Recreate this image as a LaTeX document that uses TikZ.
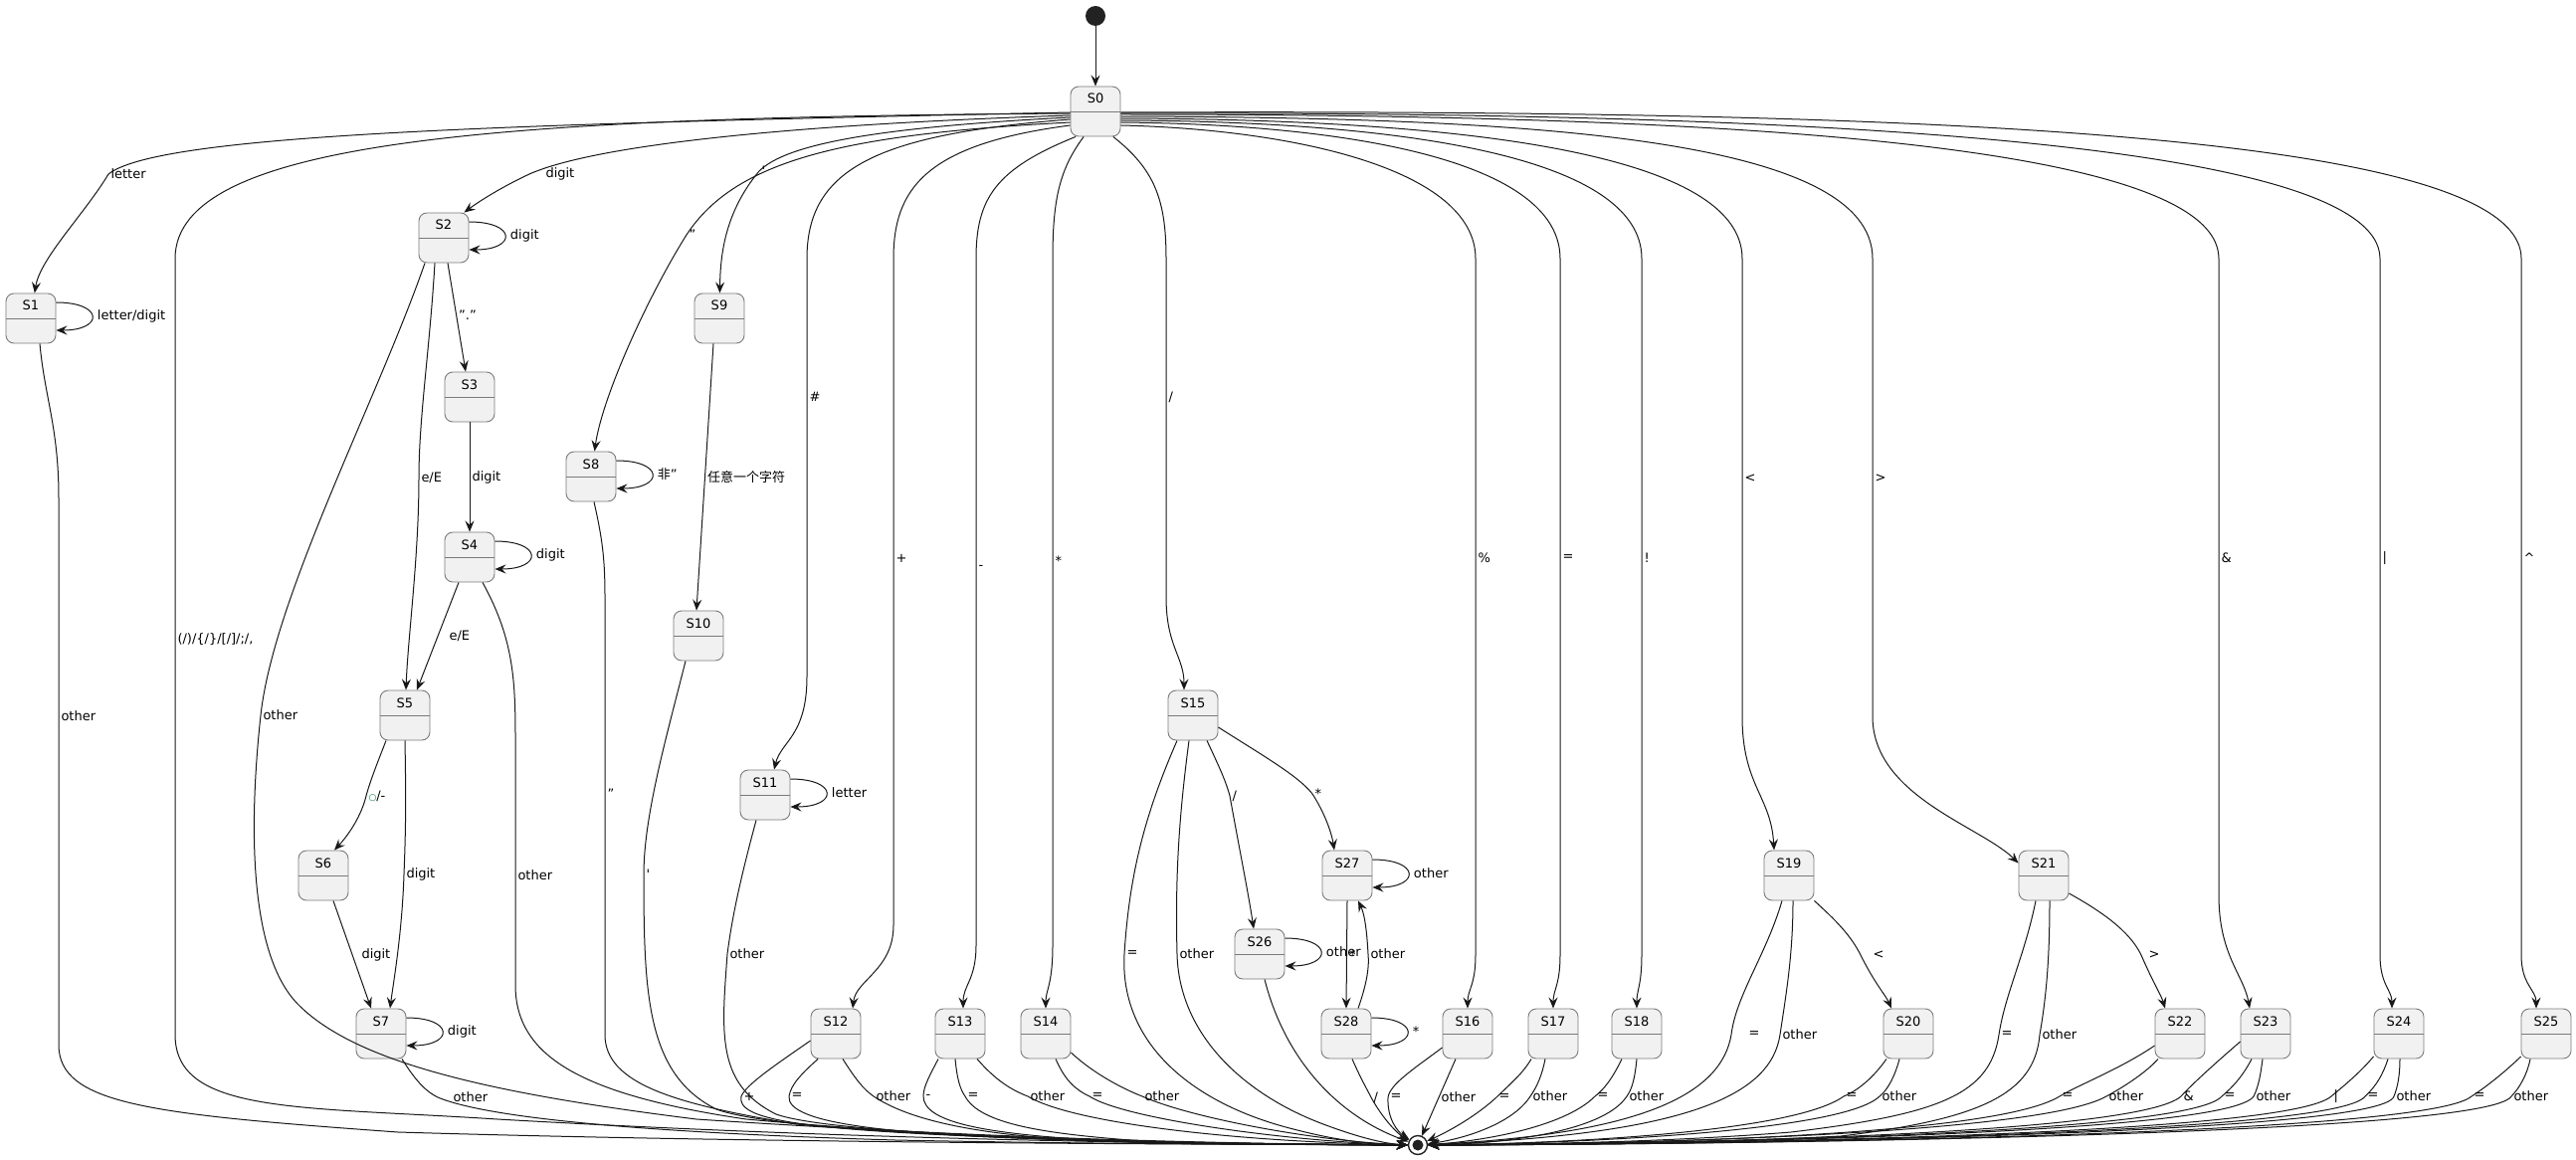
\documentclass[tikz,border=0pt]{standalone}
\usepackage{fontspec}
\setmainfont{DejaVu Sans}
\newfontfamily\cjk{Noto Sans CJK SC}
\usepackage{tikz}
\usetikzlibrary{arrows.meta,positioning}
\definecolor{statefill}{HTML}{F1F1F1}
\definecolor{stateborder}{HTML}{7A7A7A}
\definecolor{edgecol}{HTML}{181818}
\definecolor{dotcol}{HTML}{222222}
\definecolor{pubgreen}{HTML}{038048}

\begin{document}
\begin{tikzpicture}[x=1pt, y=-1pt, every node/.style={font=\fontsize{13}{15}\selectfont}]
  \tikzstyle{statebox} = [rectangle, draw=stateborder, line width=0.9pt, fill=statefill, rounded corners=8pt, minimum width=50pt, inner sep=5pt, text height=12pt, text depth=28pt, path picture={\draw[stateborder, line width=0.9pt] ([yshift=-25.5pt]path picture bounding box.north west) -- ([yshift=-25.5pt]path picture bounding box.north east);}]
  \tikzstyle{startdot} = [circle, fill=dotcol, minimum size=20pt, inner sep=0pt]
  \tikzstyle{finalstate} = [circle, draw=dotcol, line width=1.4pt, fill=white, minimum size=19pt, inner sep=0pt, path picture={\fill[dotcol] (path picture bounding box.center) circle (5.5pt);}]
  \tikzstyle{line} = [draw=edgecol, line width=1pt, -{Stealth[length=11pt, width=9pt, inset=4pt]}]
  \tikzstyle{lbl} = [inner sep=2pt, text=black]
  \tikzstyle{selfloop} = [to path={.. controls +(48,0) and +(48,0) .. (\tikztotarget) \tikztonodes}]
  \useasboundingbox (0,0) rectangle (2589,1166);

  % Start and end
  \node[startdot] (start) at (1101,16) {};
  \node[finalstate] (fin) at (1425,1151) {};

  % States
  \node[statebox] (S0) at (1101,112) {S0};
  \node[statebox] (S1) at (31,320) {S1};
  \node[statebox] (S2) at (446,239) {S2};
  \node[statebox] (S3) at (472,399) {S3};
  \node[statebox] (S4) at (472,560) {S4};
  \node[statebox] (S5) at (407,719) {S5};
  \node[statebox] (S6) at (325,880) {S6};
  \node[statebox] (S7) at (383,1039) {S7};
  \node[statebox] (S8) at (594,479) {S8};
  \node[statebox] (S9) at (723,320) {S9};
  \node[statebox] (S10) at (702,639) {S10};
  \node[statebox] (S11) at (769,799) {S11};
  \node[statebox] (S12) at (840,1039) {S12};
  \node[statebox] (S13) at (965,1039) {S13};
  \node[statebox] (S14) at (1051,1039) {S14};
  \node[statebox] (S15) at (1199,719) {S15};
  \node[statebox] (S16) at (1475,1039) {S16};
  \node[statebox] (S17) at (1561,1039) {S17};
  \node[statebox] (S18) at (1645,1039) {S18};
  \node[statebox] (S19) at (1798,880) {S19};
  \node[statebox] (S20) at (1918,1039) {S20};
  \node[statebox] (S21) at (2054,880) {S21};
  \node[statebox] (S22) at (2191,1039) {S22};
  \node[statebox] (S23) at (2277,1039) {S23};
  \node[statebox] (S24) at (2411,1039) {S24};
  \node[statebox] (S25) at (2559,1039) {S25};
  \node[statebox] (S26) at (1266,959) {S26};
  \node[statebox] (S27) at (1354,880) {S27};
  \node[statebox] (S28) at (1353,1039) {S28};

  % Entry
  \draw[line] (start) -- (S0);

  % S0, left side
  \draw[line] ([yshift=-1pt]S0.west) .. controls (500,125) and (160,135) .. (109,175) node[lbl,right]{letter} .. controls (85,215) and (40,260) .. (S1);
  \draw[line] ([yshift=-2pt]S0.west) .. controls (500,118) and (176,140) .. (176,260) -- node[lbl,right,pos=0.49]{(/)/\{/\}/[/]/;/,} (176,1040) .. controls (176,1120) and (300,1112) .. (500,1125) .. controls (900,1148) and (1250,1150) .. (fin);
  \draw[line] ([yshift=-4pt]S0.west) .. controls (800,125) and (600,145) .. (532,175) node[lbl,right=14pt]{digit} .. controls (500,190) and (478,205) .. ([xshift=-5pt]S2.north east);
  \draw[line] ([yshift=-11pt]S0.west) .. controls (850,135) and (740,160) .. (690,236) node[lbl,right]{"} .. controls (650,300) and (605,400) .. (S8);
  \draw[line] ([yshift=-6pt]S0.west) .. controls (880,128) and (790,145) .. (763,172) node[lbl,right]{\textquotesingle} .. controls (727,215) and (724,260) .. (S9);
  \draw[line] ([yshift=-8pt]S0.west) .. controls (880,135) and (811,170) .. (811,260) -- node[lbl,right,pos=0.33]{\#} (811,680) .. controls (811,740) and (785,745) .. ([xshift=9pt]S11.north);
  \draw[line] ([yshift=-14pt]S0.west) .. controls (930,145) and (898,190) .. (898,260) -- node[lbl,right,pos=0.45]{+} (898,930) .. controls (898,975) and (860,985) .. ([xshift=17pt]S12.north);
  \draw[line] (S0.232) .. controls (1000,170) and (981,200) .. (981,260) -- node[lbl,right,pos=0.45]{-} (981,950) .. controls (981,985) and (968,990) .. ([xshift=3pt]S13.north);
  \draw[line] (S0.245) .. controls (1065,170) and (1058,200) .. (1058,260) -- node[lbl,right,pos=0.44]{*} (1058,950) .. controls (1058,990) and (1051,995) .. (S14.north);
  \draw[line] (S0.305) .. controls (1160,170) and (1172,200) .. (1172,260) -- node[lbl,right,pos=0.41]{/} (1172,600) .. controls (1172,650) and (1190,660) .. ([xshift=-9pt]S15.north);

  % S0, right side
  \draw[line] ([yshift=-14pt]S0.east) .. controls (1300,130) and (1483,170) .. (1483,260) -- node[lbl,right,pos=0.43]{\%} (1483,960) .. controls (1483,990) and (1475,995) .. (S16.north);
  \draw[line] ([yshift=-11pt]S0.east) .. controls (1350,125) and (1568,160) .. (1568,260) -- node[lbl,right,pos=0.43]{=} (1568,960) .. controls (1568,990) and (1561,995) .. (S17.north);
  \draw[line] ([yshift=-9pt]S0.east) .. controls (1400,122) and (1650,155) .. (1650,260) -- node[lbl,right,pos=0.43]{!} (1650,960) .. controls (1650,990) and (1645,995) .. (S18.north);
  \draw[line] ([yshift=-7pt]S0.east) .. controls (1450,120) and (1751,150) .. (1751,260) -- node[lbl,right,pos=0.48]{<} (1751,720) .. controls (1751,790) and (1780,800) .. ([xshift=-15pt]S19.north);
  \draw[line] ([yshift=-5pt]S0.east) .. controls (1550,118) and (1882,140) .. (1882,260) -- node[lbl,right,pos=0.48]{>} (1882,720) .. controls (1882,800) and (1990,830) .. ([yshift=-13pt]S21.north west);
  \draw[line] ([yshift=-3pt]S0.east) .. controls (1700,115) and (2230,140) .. (2230,260) -- node[lbl,right,pos=0.47]{\&} (2230,900) .. controls (2230,960) and (2255,980) .. ([xshift=-16pt]S23.north);
  \draw[line] ([yshift=-2pt]S0.east) .. controls (1800,112) and (2392,140) .. (2392,260) -- node[lbl,right,pos=0.43]{\textbar} (2392,960) .. controls (2392,990) and (2404,995) .. ([xshift=-7pt]S24.north);
  \draw[line] ([yshift=-1pt]S0.east) .. controls (1900,110) and (2534,130) .. (2534,260) -- node[lbl,right,pos=0.43]{\textasciicircum} (2534,960) .. controls (2534,990) and (2549,995) .. ([xshift=-10pt]S25.north);

  % S1
  \draw[line] ([yshift=16pt]S1.east) to[selfloop] node[lbl,right=3pt]{letter/digit} ([yshift=-12pt]S1.east);
  \draw[line] ([xshift=9pt]S1.south) .. controls (45,400) and (59,430) .. (59,500) -- node[lbl,right,pos=0.4]{other} (59,1050) .. controls (59,1110) and (150,1120) .. (400,1138) .. controls (800,1150) and (1250,1150) .. (fin);

  % S2
  \draw[line] ([yshift=16pt]S2.east) to[selfloop] node[lbl,right=3pt]{digit} ([yshift=-12pt]S2.east);
  \draw[line] ([xshift=4pt]S2.south) -- node[lbl,right,pos=0.48]{"."} ([xshift=-4pt]S3.north);
  \draw[line] ([xshift=-9pt]S2.south) .. controls (432,350) and (421,420) .. (421,480) node[lbl,right]{e/E} .. controls (421,560) and (410,640) .. ([xshift=1pt]S5.north);
  \draw[line] ([xshift=-19pt]S2.south) .. controls (380,400) and (275,600) .. (262,719) node[lbl,right]{other} .. controls (250,830) and (250,960) .. (300,1010) .. controls (360,1070) and (500,1100) .. (700,1125) .. controls (1000,1145) and (1250,1150) .. (fin);

  % S3
  \draw[line] (S3.south) -- node[lbl,right]{digit} (S4.north);

  % S4
  \draw[line] ([yshift=16pt]S4.east) to[selfloop] node[lbl,right=3pt]{digit} ([yshift=-12pt]S4.east);
  \draw[line] ([xshift=-11pt]S4.south) -- node[lbl,right=9pt,pos=0.5]{e/E} ([xshift=12pt]S5.north);
  \draw[line] ([xshift=13pt]S4.south) .. controls (515,640) and (518,680) .. (518,740) -- node[lbl,right,pos=0.56]{other} (518,990) .. controls (518,1060) and (580,1100) .. (750,1125) .. controls (1000,1148) and (1250,1150) .. (fin);

  % S5
  \draw[line] ([xshift=-19pt]S5.south) .. controls (380,765) and (372,785) .. (368,800) node[lbl,right]{{\fontsize{9}{10}\selectfont\textcolor{pubgreen}{○}}/-} .. controls (362,825) and (345,845) .. ([xshift=11pt]S6.north);
  \draw[line] (S5.south) .. controls (408,800) and (408,830) .. (406,879) node[lbl,right]{digit} .. controls (404,940) and (395,990) .. ([xshift=9pt]S7.north);

  % S6
  \draw[line] ([xshift=10pt]S6.south) -- node[lbl,right=7pt,pos=0.5]{digit} ([xshift=-10pt]S7.north);

  % S7
  \draw[line] ([yshift=16pt]S7.east) to[selfloop] node[lbl,right=3pt]{digit} ([yshift=-12pt]S7.east);
  \draw[line] ([xshift=21pt]S7.south) .. controls (420,1090) and (430,1098) .. (440,1103) node[lbl,right=13pt]{other} .. controls (500,1128) and (700,1140) .. (900,1146) .. controls (1100,1150) and (1250,1150) .. (fin);

  % S8
  \draw[line] ([yshift=16pt]S8.east) to[selfloop] node[lbl,right=3pt]{{\cjk 非}"} ([yshift=-12pt]S8.east);
  \draw[line] ([xshift=3pt]S8.south) .. controls (605,540) and (608,560) .. (608,600) -- node[lbl,right,pos=0.45]{"} (608,1040) .. controls (608,1090) and (680,1110) .. (800,1130) .. controls (1000,1148) and (1250,1150) .. (fin);

  % S9, S10
  \draw[line] ([xshift=-6pt]S9.south) -- node[lbl,right,pos=0.5]{\cjk 任意一个字符} ([xshift=-2pt]S10.north);
  \draw[line] ([xshift=-13pt]S10.south) .. controls (670,740) and (647,820) .. (647,879) node[lbl,right]{\textquotesingle} .. controls (647,1000) and (650,1080) .. (720,1115) .. controls (800,1145) and (1250,1150) .. (fin);

  % S11
  \draw[line] ([yshift=16pt]S11.east) to[selfloop] node[lbl,right=3pt]{letter} ([yshift=-12pt]S11.east);
  \draw[line] ([xshift=-9pt]S11.south) .. controls (745,880) and (736,920) .. (731,959) node[lbl,right]{other} .. controls (725,1040) and (720,1090) .. (780,1120) .. controls (850,1145) and (1250,1150) .. (fin);

  % S12 - S14
  \draw[line] ([yshift=-7pt]S12.west) .. controls (780,1070) and (750,1090) .. (745,1102) node[lbl,right]{+} .. controls (740,1125) and (800,1135) .. (1000,1143) .. controls (1150,1150) and (1250,1150) .. (fin);
  \draw[line] ([xshift=-18pt]S12.south) .. controls (805,1080) and (795,1090) .. (793,1102) node[lbl,right]{=} .. controls (790,1130) and (900,1140) .. (1050,1145) .. controls (1200,1150) and (1250,1150) .. (fin);
  \draw[line] ([xshift=7pt]S12.south) .. controls (860,1085) and (868,1095) .. (878,1102) node[lbl,right]{other} .. controls (920,1130) and (1000,1142) .. (1100,1147) .. controls (1200,1150) and (1250,1150) .. (fin);
  \draw[line] ([xshift=-22pt]S13.south) .. controls (935,1080) and (928,1092) .. (928,1102) node[lbl,right]{-} .. controls (928,1130) and (1000,1140) .. (1100,1146) .. controls (1200,1150) and (1250,1150) .. (fin);
  \draw[line] ([xshift=-5pt]S13.south) .. controls (962,1085) and (965,1095) .. (970,1102) node[lbl,right]{=} .. controls (985,1130) and (1050,1140) .. (1150,1147) .. controls (1220,1150) and (1260,1150) .. (fin);
  \draw[line] ([xshift=17pt]S13.south) .. controls (1000,1085) and (1015,1095) .. (1033,1102) node[lbl,right]{other} .. controls (1080,1130) and (1250,1148) .. (fin);
  \draw[line] ([xshift=10pt]S14.south) .. controls (1070,1085) and (1080,1095) .. (1095,1102) node[lbl,right]{=} .. controls (1130,1125) and (1300,1148) .. (fin);
  \draw[line] ([yshift=-19pt]S14.east) .. controls (1100,1080) and (1130,1095) .. (1148,1102) node[lbl,right]{other} .. controls (1200,1125) and (1330,1148) .. (fin);

  % S15
  \draw[line] ([xshift=-16pt]S15.south) .. controls (1150,820) and (1135,880) .. (1130,959) node[lbl,right]{=} .. controls (1125,1050) and (1200,1110) .. (1300,1135) .. controls (1350,1148) and (1380,1150) .. (fin);
  \draw[line] ([xshift=-4pt]S15.south) .. controls (1185,820) and (1181,880) .. (1183,959) node[lbl,right]{other} .. controls (1185,1040) and (1250,1100) .. (1330,1130) .. controls (1370,1145) and (1395,1150) .. (fin);
  \draw[line] ([xshift=14pt]S15.south) .. controls (1225,770) and (1232,785) .. (1236,800) node[lbl,right]{/} .. controls (1245,850) and (1255,900) .. ([xshift=-6pt]S26.north);
  \draw[line] ([yshift=-12pt]S15.east) .. controls (1270,760) and (1305,780) .. (1319,798) node[lbl,right]{*} .. controls (1330,815) and (1338,835) .. ([xshift=-13pt]S27.north);

  % S26 - S28
  \draw[line] ([yshift=16pt]S26.east) to[selfloop] node[lbl,right=3pt]{other} ([yshift=-12pt]S26.east);
  \draw[line] ([xshift=5pt]S26.south) .. controls (1290,1060) and (1340,1120) .. (fin);
  \draw[line] ([yshift=16pt]S27.east) to[selfloop] node[lbl,right=3pt]{other} ([yshift=-12pt]S27.east);
  \draw[line] (S27.south) -- node[lbl,right,pos=0.5]{*} (S28.north);
  \draw[line] ([xshift=12pt]S28.north) .. controls (1375,985) and (1376,970) .. (1375,959) node[lbl,right]{other} .. controls (1374,940) and (1372,920) .. ([xshift=11pt]S27.south);
  \draw[line] ([yshift=16pt]S28.east) to[selfloop] node[lbl,right=3pt]{*} ([yshift=-12pt]S28.east);
  \draw[line] ([xshift=6pt]S28.south) .. controls (1368,1085) and (1374,1095) .. (1378,1103) node[lbl,right]{/} .. controls (1390,1125) and (1405,1140) .. (fin);

  % S16 - S18
  \draw[line] ([yshift=-14pt]S16.west) .. controls (1420,1075) and (1397,1090) .. (1395,1103) node[lbl,right]{=} .. controls (1394,1125) and (1405,1138) .. (fin);
  \draw[line] ([xshift=-12pt]S16.south) -- node[lbl,right,pos=0.5]{other} (fin);
  \draw[line] ([xshift=-22pt]S17.south) .. controls (1530,1080) and (1515,1092) .. (1504,1103) node[lbl,right]{=} .. controls (1480,1125) and (1450,1140) .. (fin);
  \draw[line] ([xshift=-8pt]S17.south) .. controls (1550,1080) and (1545,1092) .. (1538,1102) node[lbl,right]{other} .. controls (1520,1130) and (1470,1145) .. (fin);
  \draw[line] ([xshift=-15pt]S18.south) .. controls (1620,1085) and (1612,1095) .. (1603,1102) node[lbl,right]{=} .. controls (1570,1135) and (1480,1148) .. (fin);
  \draw[line] (S18.south) .. controls (1643,1085) and (1640,1095) .. (1635,1102) node[lbl,right]{other} .. controls (1610,1140) and (1500,1150) .. (fin);

  % S19, S20
  \draw[line] ([xshift=-7pt]S19.south) .. controls (1775,960) and (1745,1000) .. (1740,1040) node[lbl,right=15pt]{=} .. controls (1730,1100) and (1650,1140) .. (fin);
  \draw[line] ([xshift=4pt]S19.south) .. controls (1802,960) and (1795,1000) .. (1789,1040) node[lbl,right]{other} .. controls (1780,1100) and (1700,1140) .. (fin);
  \draw[line] (S19.south east) .. controls (1845,925) and (1860,940) .. (1870,960) node[lbl,right=10pt]{<} .. controls (1885,990) and (1895,1000) .. ([xshift=-17pt]S20.north);
  \draw[line] ([xshift=-22pt]S20.south) .. controls (1885,1080) and (1870,1095) .. (1853,1102) node[lbl,right]{=} .. controls (1800,1140) and (1550,1150) .. (fin);
  \draw[line] ([xshift=-9pt]S20.south) .. controls (1905,1080) and (1898,1095) .. (1889,1102) node[lbl,right]{other} .. controls (1850,1140) and (1550,1150) .. (fin);

  % S21, S22
  \draw[line] ([xshift=-8pt]S21.south) .. controls (2035,960) and (2015,1000) .. (2009,1040) node[lbl,right]{=} .. controls (2000,1100) and (1950,1120) .. (1800,1138) .. controls (1650,1150) and (1500,1150) .. (fin);
  \draw[line] ([xshift=6pt]S21.south) .. controls (2060,960) and (2057,1000) .. (2050,1040) node[lbl,right]{other} .. controls (2045,1100) and (1990,1125) .. (1850,1142) .. controls (1700,1150) and (1500,1150) .. (fin);
  \draw[line] ([yshift=-18pt]S21.east) .. controls (2110,915) and (2140,935) .. (2152,960) node[lbl,right=5pt]{>} .. controls (2165,990) and (2172,1000) .. ([xshift=-15pt]S22.north);
  \draw[line] ([yshift=-12pt]S22.west) .. controls (2130,1075) and (2090,1090) .. (2070,1102) node[lbl,right]{=} .. controls (2000,1145) and (1600,1150) .. (fin);
  \draw[line] ([xshift=-22pt]S22.south) .. controls (2155,1080) and (2130,1095) .. (2117,1102) node[lbl,right]{other} .. controls (2050,1140) and (1650,1150) .. (fin);

  % S23 - S25
  \draw[line] ([yshift=-8pt]S23.west) .. controls (2225,1070) and (2205,1088) .. (2192,1102) node[lbl,right]{\&} .. controls (2150,1140) and (1700,1150) .. (fin);
  \draw[line] ([xshift=-14pt]S23.south) .. controls (2255,1080) and (2245,1092) .. (2233,1102) node[lbl,right]{=} .. controls (2200,1140) and (1700,1150) .. (fin);
  \draw[line] ([xshift=-3pt]S23.south) .. controls (2272,1080) and (2270,1092) .. (2265,1102) node[lbl,right]{other} .. controls (2240,1140) and (1700,1150) .. (fin);
  \draw[line] ([yshift=-23pt]S24.west) .. controls (2370,1080) and (2355,1092) .. (2343,1102) node[lbl,right]{\textbar} .. controls (2300,1140) and (1750,1150) .. (fin);
  \draw[line] ([xshift=-11pt]S24.south) .. controls (2395,1080) and (2388,1092) .. (2377,1102) node[lbl,right]{=} .. controls (2350,1140) and (1750,1150) .. (fin);
  \draw[line] ([xshift=1pt]S24.south) .. controls (2412,1080) and (2410,1092) .. (2406,1102) node[lbl,right]{other} .. controls (2395,1140) and (1750,1150) .. (fin);
  \draw[line] ([yshift=-23pt]S25.west) .. controls (2515,1080) and (2495,1095) .. (2484,1102) node[lbl,right]{=} .. controls (2440,1140) and (1800,1150) .. (fin);
  \draw[line] ([xshift=-16pt]S25.south) .. controls (2540,1080) and (2532,1094) .. (2524,1102) node[lbl,right]{other} .. controls (2500,1140) and (1800,1150) .. (fin);
\end{tikzpicture}
\end{document}
